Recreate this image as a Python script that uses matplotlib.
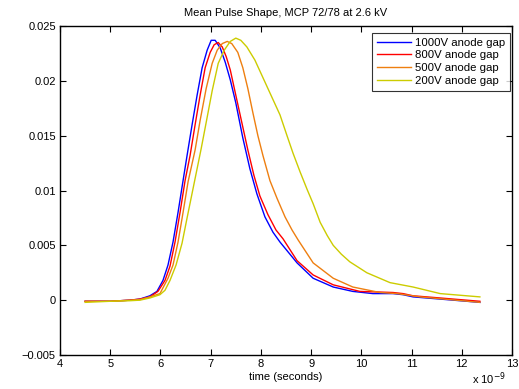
import numpy as np
import matplotlib
matplotlib.use("Agg")
import matplotlib.pyplot as plt

# ===== Data (time in ns, amplitude) =====
t_1000 = [4.50, 5.00, 5.39, 5.59, 5.79, 5.93, 6.05, 6.15, 6.25, 6.35, 6.45, 6.53,
          6.63, 6.73, 6.83, 6.93, 7.01, 7.09, 7.19, 7.29, 7.39, 7.50, 7.64, 7.78,
          7.92, 8.08, 8.24, 8.38, 8.72, 9.04, 9.44, 9.83, 10.23, 10.63, 10.83, 11.03,
          11.57, 12.36]
v_1000 = [-0.0001, -0.0001, 0.0, 0.0001, 0.0004, 0.0008, 0.0018, 0.0032, 0.0053, 0.0080, 0.0109, 0.0132,
          0.0160, 0.0187, 0.0212, 0.0228, 0.0237, 0.0237, 0.0230, 0.0217, 0.0201, 0.0180, 0.0148, 0.0120,
          0.0097, 0.0076, 0.0062, 0.0053, 0.0034, 0.0020, 0.0012, 0.0008, 0.0006, 0.0006, 0.0005, 0.0003,
          0.0001, -0.0002]

t_800 = [4.50, 5.00, 5.39, 5.59, 5.79, 5.95, 6.09, 6.19, 6.29, 6.39, 6.49, 6.59,
         6.69, 6.79, 6.89, 6.99, 7.07, 7.15, 7.23, 7.31, 7.39, 7.50, 7.62, 7.74,
         7.86, 7.98, 8.14, 8.30, 8.44, 8.72, 9.04, 9.44, 9.97, 10.63, 10.83, 11.03,
         11.57, 12.36]
v_800 = [-0.0001, -0.0001, 0.0, 0.0001, 0.0003, 0.0008, 0.0018, 0.0031, 0.0053, 0.0080, 0.0109, 0.0132,
         0.0160, 0.0187, 0.0212, 0.0226, 0.0233, 0.0235, 0.0231, 0.0222, 0.0210, 0.0187, 0.0162, 0.0137,
         0.0114, 0.0095, 0.0078, 0.0064, 0.0056, 0.0036, 0.0023, 0.0014, 0.0008, 0.0007, 0.0006, 0.0004,
         0.0002, -0.0001]

t_500 = [4.50, 5.00, 5.39, 5.59, 5.79, 5.99, 6.15, 6.25, 6.35, 6.45, 6.55, 6.69,
         6.79, 6.91, 7.03, 7.13, 7.23, 7.33, 7.42, 7.54, 7.64, 7.74, 7.84, 7.94,
         8.04, 8.18, 8.32, 8.48, 8.62, 8.74, 9.04, 9.44, 9.83, 10.37, 10.71, 11.17,
         12.36]
v_500 = [-0.0001, -0.0001, 0.0, 0.00005, 0.0003, 0.0006, 0.0020, 0.0032, 0.0053, 0.0080, 0.0108, 0.0137,
         0.0164, 0.0193, 0.0216, 0.0228, 0.0234, 0.0236, 0.0234, 0.0226, 0.0212, 0.0193, 0.0171, 0.0150,
         0.0132, 0.0109, 0.0093, 0.0076, 0.0064, 0.0055, 0.0034, 0.0020, 0.0012, 0.0007, 0.0006, 0.0003,
         -0.0002]

t_200 = [4.50, 5.00, 5.39, 5.59, 5.79, 5.99, 6.09, 6.19, 6.31, 6.43, 6.53, 6.65,
         6.81, 6.91, 7.03, 7.15, 7.27, 7.39, 7.50, 7.60, 7.72, 7.88, 8.04, 8.20,
         8.38, 8.52, 8.64, 8.78, 8.92, 9.04, 9.18, 9.32, 9.44, 9.60, 9.77, 10.11,
         10.57, 11.03, 11.57, 12.36]
v_200 = [-0.0002, -0.0001, -0.00005, 0.0, 0.0002, 0.0005, 0.0009, 0.0018, 0.0032, 0.0052, 0.0075, 0.0102,
         0.0138, 0.0162, 0.0191, 0.0216, 0.0228, 0.0236, 0.0239, 0.0237, 0.0231, 0.0219, 0.0203, 0.0187,
         0.0169, 0.0150, 0.0134, 0.0117, 0.0101, 0.0088, 0.0071, 0.0059, 0.0050, 0.0042, 0.0035, 0.0025,
         0.0016, 0.0012, 0.0006, 0.0003]

labels = ["1000V anode gap", "800V anode gap", "500V anode gap", "200V anode gap"]
colors = ["#0000ff", "#ff0000", "#ee7f10", "#cccc00"]

x_ticks = [4, 5, 6, 7, 8, 9, 10, 11, 12, 13]
y_ticks = [-0.005, 0, 0.005, 0.01, 0.015, 0.02, 0.025]
y_tick_labels = ["\u22120.005", "0", "0.005", "0.01", "0.015", "0.02", "0.025"]

plt.rcParams["font.family"] = ["Liberation Sans", "DejaVu Sans"]

fig = plt.figure(figsize=(5.19, 3.89), dpi=100)
ax = fig.add_axes([0.1156, 0.0874, 0.871, 0.8456])

series = [(t_1000, v_1000), (t_800, v_800), (t_500, v_500), (t_200, v_200)]
for (t, v), lab, c in zip(series, labels, colors):
    ax.plot(t, v, color=c, lw=1.0, label=lab)

ax.set_xlim(4, 13)
ax.set_ylim(-0.005, 0.025)
ax.set_xticks(x_ticks)
ax.set_yticks(y_ticks)
ax.set_yticklabels(y_tick_labels)
ax.tick_params(direction="in", top=True, right=True, labelsize=8, length=4, width=0.8, pad=3)
for s in ax.spines.values():
    s.set_linewidth(1.0)

ax.set_title("Mean Pulse Shape, MCP 72/78 at 2.6 kV", fontsize=8, pad=7)
ax.set_xlabel("time (seconds)", fontsize=8, labelpad=2)
fig.text(0.975, 0.004, r"x 10$^{-9}$", fontsize=8, ha="right", va="bottom")

leg = ax.legend(loc="upper right", bbox_to_anchor=(0.9956, 0.9787), borderaxespad=0,
                fontsize=8.2, frameon=True, fancybox=False, edgecolor="black",
                handlelength=3.0, handletextpad=0.4, labelspacing=0.25, borderpad=0.4)
leg.get_frame().set_linewidth(0.8)

fig.savefig("out.png", dpi=100)
